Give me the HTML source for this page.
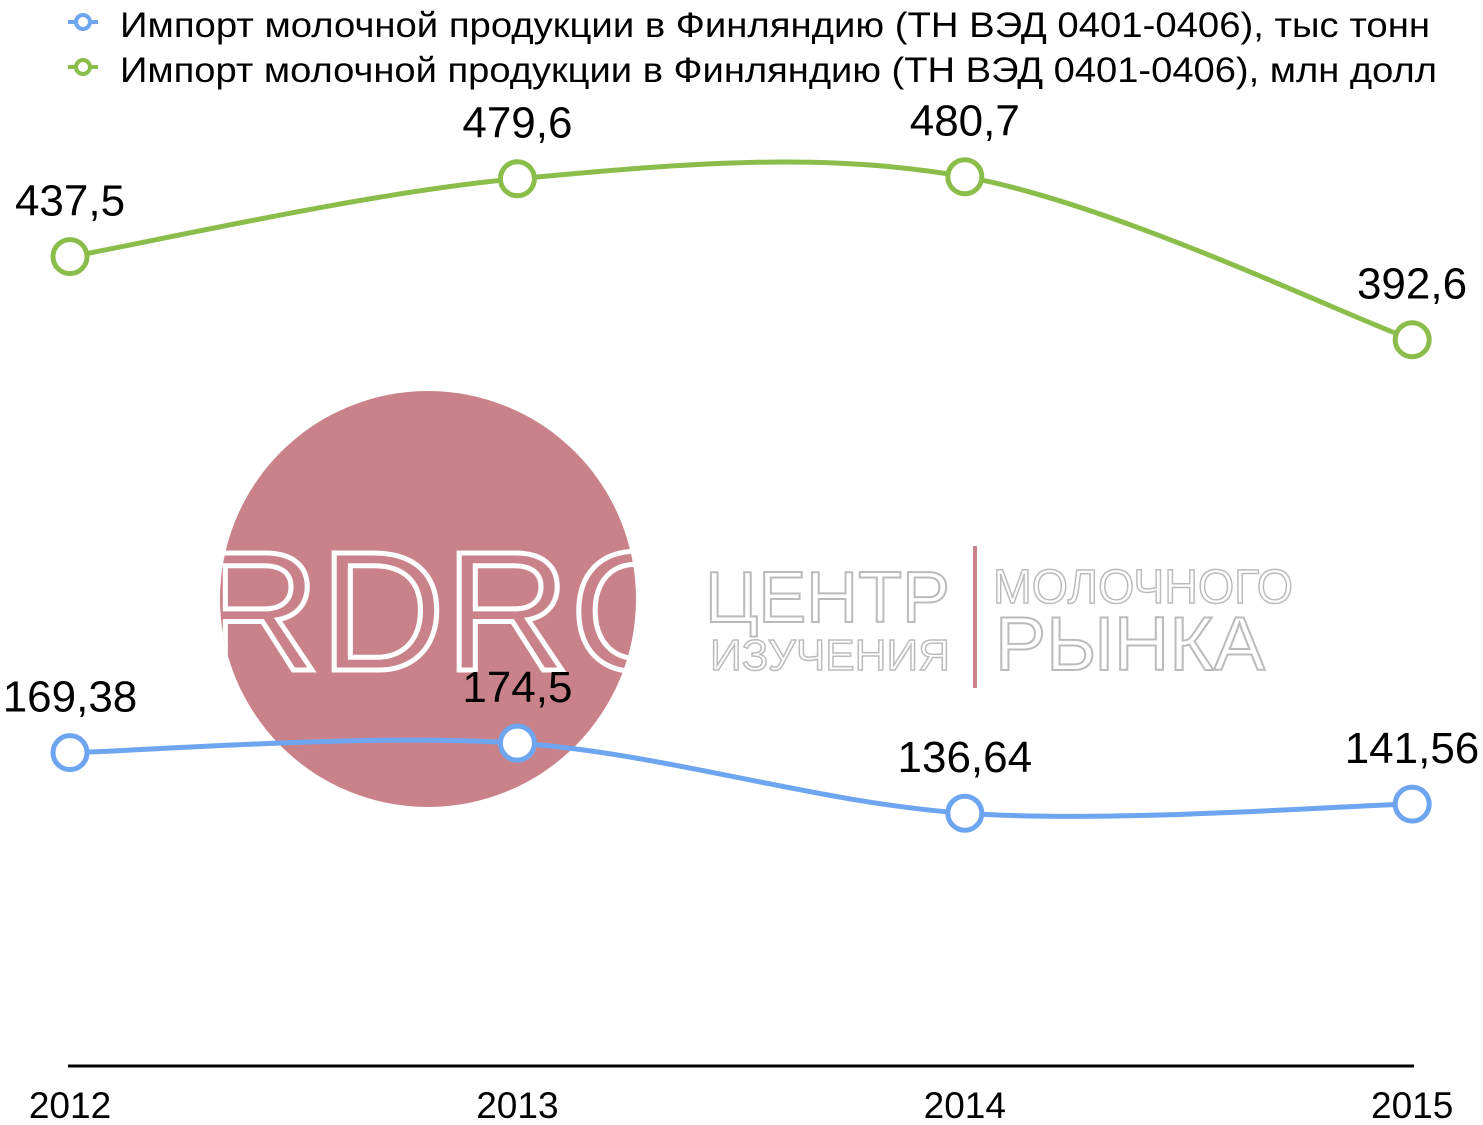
<!DOCTYPE html>
<html><head><meta charset="utf-8"><style>
body{margin:0;background:#fff;}
svg{display:block;font-family:"Liberation Sans","DejaVu Sans",sans-serif;}
</style></head><body>
<svg id="chart" width="1483" height="1125" viewBox="0 0 1483 1125">
<g>
<defs><clipPath id="cc"><circle cx="428" cy="599" r="208"/></clipPath></defs>
<circle cx="428" cy="599" r="208" fill="#c98289"/>
<text clip-path="url(#cc)" x="195" y="670" font-size="170" fill="none" stroke="#fff" stroke-width="5" textLength="500" lengthAdjust="spacingAndGlyphs">RDRC</text>
<text x="705" y="622" font-size="72" fill="none" stroke="#bbb" stroke-width="2" textLength="245" lengthAdjust="spacingAndGlyphs">ЦЕНТР</text>
<text x="710" y="670" font-size="44" fill="none" stroke="#bbb" stroke-width="1.5" textLength="240" lengthAdjust="spacingAndGlyphs">ИЗУЧЕНИЯ</text>
<rect x="973" y="546" width="4" height="142" fill="#c98289"/>
<text x="993" y="603" font-size="48" fill="none" stroke="#bbb" stroke-width="1.5" textLength="300" lengthAdjust="spacingAndGlyphs">МОЛОЧНОГО</text>
<text x="995" y="670" font-size="76" fill="none" stroke="#bbb" stroke-width="2" textLength="270" lengthAdjust="spacingAndGlyphs">РЫНКА</text>
</g>
<line x1="68" y1="1066" x2="1414" y2="1066" stroke="#000" stroke-width="3"/>
<g id="legend">
<g>
<line x1="68" y1="22" x2="98" y2="22" stroke="#6ea5f0" stroke-width="4"/>
<circle cx="83" cy="22" r="7" fill="#fff" stroke="#6ea5f0" stroke-width="4"/>
<text x="120" y="37" font-size="35" fill="#000" textLength="1310" lengthAdjust="spacingAndGlyphs">Импорт молочной продукции в Финляндию (ТН ВЭД 0401-0406), тыс тонн</text>
</g>
<g>
<line x1="68" y1="67" x2="98" y2="67" stroke="#8bbd4a" stroke-width="4"/>
<circle cx="83" cy="67" r="7" fill="#fff" stroke="#8bbd4a" stroke-width="4"/>
<text x="120" y="82" font-size="35" fill="#000" textLength="1317" lengthAdjust="spacingAndGlyphs">Импорт молочной продукции в Финляндию (ТН ВЭД 0401-0406), млн долл</text>
</g>
</g>
<g id="plot"></g>
</svg>
<script>
const categories=["2012","2013","2014","2015"];
const tonnes=[169.38,174.5,136.64,141.56];
const tonnesLabels=["169,38","174,5","136,64","141,56"];
const dollars=[437.5,479.6,480.7,392.6];
const dollarsLabels=["437,5","479,6","480,7","392,6"];
const NS="http://www.w3.org/2000/svg";
const xs=i=>70+i*447.4;
const ys=v=>1066-v*1.85;
const plot=document.getElementById('plot');
function path(pts){
 let d=`M${pts[0][0]},${pts[0][1]}`;
 for(let i=0;i<pts.length-1;i++){
  const p0=pts[i-1]||pts[i],p1=pts[i],p2=pts[i+1],p3=pts[i+2]||p2;
  const t=6;
  d+=` C${p1[0]+(p2[0]-p0[0])/t},${p1[1]+(p2[1]-p0[1])/t} ${p2[0]-(p3[0]-p1[0])/t},${p2[1]-(p3[1]-p1[1])/t} ${p2[0]},${p2[1]}`;
 }
 return d;
}
function series(vals,labels,color,name){
 const g=document.createElementNS(NS,'g');
 
 
 const pts=vals.map((v,i)=>[xs(i),ys(v)]);
 const p=document.createElementNS(NS,'path');
 
 
 p.setAttribute('d',path(pts));p.setAttribute('fill','none');p.setAttribute('stroke',color);p.setAttribute('stroke-width','5');
 g.appendChild(p);
 pts.forEach((pt,i)=>{
  const c=document.createElementNS(NS,'circle');
  
  
  c.setAttribute('cx',pt[0]);c.setAttribute('cy',pt[1]);c.setAttribute('r','17');
  c.setAttribute('fill','#fff');c.setAttribute('stroke',color);c.setAttribute('stroke-width','5');
  g.appendChild(c);
  const t=document.createElementNS(NS,'text');
  
  
  t.setAttribute('x',i===3?1412:pt[0]);t.setAttribute('y',pt[1]-41);
  t.setAttribute('text-anchor','middle');t.setAttribute('font-size','44');t.setAttribute('fill','#000');
  t.textContent=labels[i];
  g.appendChild(t);
 });
 plot.appendChild(g);
}
series(dollars,dollarsLabels,'#8bbd4a','series-dollars');
series(tonnes,tonnesLabels,'#6ea5f0','series-tonnes');
categories.forEach((c,i)=>{
 const t=document.createElementNS(NS,'text');
 
 
 t.setAttribute('x',xs(i));t.setAttribute('y',1118);t.setAttribute('text-anchor','middle');
 t.setAttribute('font-size','37');t.setAttribute('fill','#000');
 t.textContent=c;
 plot.appendChild(t);
});
</script>
</body></html>
